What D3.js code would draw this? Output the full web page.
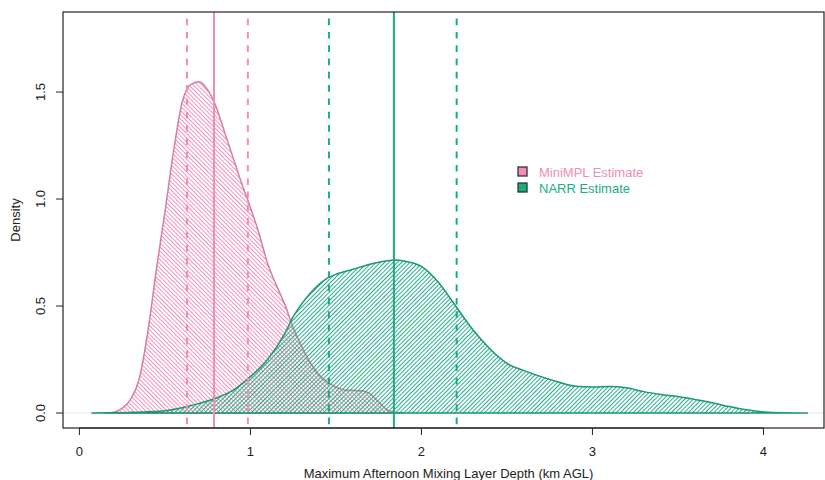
<!DOCTYPE html>
<html>
<head>
<meta charset="utf-8">
<script src="https://cdn.jsdelivr.net/npm/d3@7"></script>
<style>
  body { margin: 0; background: #fff; }
  text { font-family: "Liberation Sans", Arial, sans-serif; }
</style>
</head>
<body>
<div id="chart"></div>
<script>
"use strict";

// density estimates
const miniX = [0.15, 0.20, 0.25, 0.30, 0.35, 0.40, 0.45, 0.50, 0.55, 0.60, 0.65, 0.70, 0.75,
               0.80, 0.85, 0.90, 0.95, 1.00, 1.05, 1.10, 1.15, 1.20, 1.25, 1.30, 1.35, 1.40,
               1.45, 1.50, 1.55, 1.60, 1.65, 1.70, 1.75, 1.80, 1.85, 1.90];
const miniY = [0, 0.004, 0.022, 0.065, 0.16, 0.38, 0.67, 0.94, 1.22, 1.45, 1.535, 1.548, 1.51,
               1.43, 1.31, 1.19, 1.07, 0.96, 0.84, 0.70, 0.60, 0.51, 0.40, 0.31, 0.235, 0.18,
               0.145, 0.122, 0.108, 0.106, 0.104, 0.09, 0.05, 0.015, 0.003, 0];

const narrX = [0.07, 0.20, 0.30, 0.40, 0.50, 0.60, 0.70, 0.80, 0.90, 1.00, 1.10, 1.20, 1.25,
               1.30, 1.35, 1.40, 1.45, 1.50, 1.60, 1.70, 1.80, 1.85, 1.90, 2.00, 2.10, 2.20,
               2.30, 2.40, 2.50, 2.60, 2.70, 2.80, 2.90, 3.00, 3.10, 3.20, 3.30, 3.40, 3.50,
               3.60, 3.70, 3.80, 3.90, 4.00, 4.10, 4.26];
const narrY = [0, 0.001, 0.003, 0.006, 0.011, 0.025, 0.045, 0.07, 0.107, 0.17, 0.25, 0.37, 0.45,
               0.51, 0.56, 0.60, 0.63, 0.648, 0.672, 0.695, 0.712, 0.715, 0.71, 0.685, 0.61, 0.50,
               0.39, 0.30, 0.232, 0.198, 0.17, 0.145, 0.125, 0.122, 0.124, 0.118, 0.10, 0.087, 0.077,
               0.063, 0.048, 0.03, 0.015, 0.005, 0.001, 0];

// mean and interval lines
const miniLines = [0.629, 0.787, 0.985];
const narrLines = [1.459, 1.839, 2.206];

const xTicks = [0, 1, 2, 3, 4];
const yTicks = [0, 0.5, 1, 1.5];
const yTickLabels = ["0.0", "0.5", "1.0", "1.5"];
const legendLabels = ["MiniMPL Estimate", "NARR Estimate"];

const W = 825, H = 480;
const box = { left: 63, right: 824, top: 12, bottom: 428 };
const fs = 13;

const pink = "#f28cb9", pinkDark = "#d27fa4";
const green = "#19ad82", greenDark = "#1b9676";

const x = d3.scaleLinear().domain([-0.096, 4.354]).range([box.left, box.right]);
const y = d3.scaleLinear().domain([-0.07, 1.874]).range([box.bottom, box.top]);

const svg = d3.select("#chart").append("svg")
    .attr("width", W)
    .attr("height", H);

const defs = svg.append("defs");

function hatch(id, color, angle) {
    const p = defs.append("pattern")
        .attr("id", id)
        .attr("patternUnits", "userSpaceOnUse")
        .attr("width", 3)
        .attr("height", 3)
        .attr("patternTransform", `rotate(${angle})`);
    p.append("line")
        .attr("x1", 1.5).attr("x2", 1.5)
        .attr("y1", 0).attr("y2", 3)
        .attr("stroke", color)
        .attr("stroke-width", 0.95);
}
hatch("hatchPink", pink, -45);
hatch("hatchGreen", green, 45);

defs.append("clipPath").attr("id", "plotClip")
    .append("rect")
    .attr("x", box.left).attr("y", box.top)
    .attr("width", box.right - box.left)
    .attr("height", box.bottom - box.top);

const plot = svg.append("g").attr("clip-path", "url(#plotClip)");

// zero line
plot.append("line")
    .attr("x1", box.left).attr("x2", box.right)
    .attr("y1", y(0)).attr("y2", y(0))
    .attr("stroke", "#e4e4e4")
    .attr("stroke-width", 1);

const area = d3.area()
    .x(d => x(d[0]))
    .y0(y(0))
    .y1(d => y(d[1]))
    .curve(d3.curveMonotoneX);

const miniData = d3.zip(miniX, miniY);
const narrData = d3.zip(narrX, narrY);

plot.append("path")
    .datum(miniData)
    .attr("d", area)
    .attr("fill", "url(#hatchPink)")
    .attr("stroke", pinkDark)
    .attr("stroke-width", 1.5);

plot.append("path")
    .datum(narrData)
    .attr("d", area)
    .attr("fill", "url(#hatchGreen)")
    .attr("stroke", greenDark)
    .attr("stroke-width", 1.5);

function vlines(vals, color) {
    plot.selectAll(null).data(vals).enter().append("line")
        .attr("x1", d => x(d)).attr("x2", d => x(d))
        .attr("y1", box.top).attr("y2", box.bottom)
        .attr("stroke", color)
        .attr("stroke-width", 2)
        .attr("stroke-dasharray", (d, i) => i === 1 ? null : "6.7,6.6")
        .attr("stroke-dashoffset", 6.7);
}
vlines(miniLines, pink);
vlines(narrLines, green);

// box
svg.append("rect")
    .attr("x", box.left).attr("y", box.top)
    .attr("width", box.right - box.left)
    .attr("height", box.bottom - box.top)
    .attr("fill", "none")
    .attr("stroke", "#222")
    .attr("stroke-width", 1.2);

// x axis
const xAxis = svg.append("g");
xAxis.append("line")
    .attr("x1", x(xTicks[0])).attr("x2", x(xTicks[xTicks.length - 1]))
    .attr("y1", box.bottom).attr("y2", box.bottom)
    .attr("stroke", "#222");
xAxis.selectAll(".tick").data(xTicks).enter().append("line")
    .attr("x1", d => x(d)).attr("x2", d => x(d))
    .attr("y1", box.bottom).attr("y2", box.bottom + 7)
    .attr("stroke", "#222");
xAxis.selectAll(".lab").data(xTicks).enter().append("text")
    .attr("x", d => x(d))
    .attr("y", box.bottom + 28)
    .attr("text-anchor", "middle")
    .attr("font-size", fs)
    .attr("fill", "#222")
    .text(d => d);

svg.append("text")
    .attr("x", (box.left + box.right) / 2 + 5)
    .attr("y", 478)
    .attr("text-anchor", "middle")
    .attr("font-size", fs)
    .attr("fill", "#222")
    .text("Maximum Afternoon Mixing Layer Depth (km AGL)");

// y axis
const yAxis = svg.append("g");
yAxis.selectAll(".tick").data(yTicks).enter().append("line")
    .attr("x1", box.left - 7).attr("x2", box.left)
    .attr("y1", d => y(d)).attr("y2", d => y(d))
    .attr("stroke", "#222");
yAxis.selectAll(".lab").data(yTicks).enter().append("text")
    .attr("transform", d => `translate(${box.left - 18},${y(d)}) rotate(-90)`)
    .attr("text-anchor", "middle")
    .attr("font-size", fs)
    .attr("fill", "#222")
    .text((d, i) => yTickLabels[i]);

svg.append("text")
    .attr("transform", `translate(20,${(box.top + box.bottom) / 2}) rotate(-90)`)
    .attr("text-anchor", "middle")
    .attr("font-size", fs)
    .attr("fill", "#222")
    .text("Density");

// legend
const legend = svg.append("g").attr("transform", "translate(518,167)");
const legendColors = [pink, green];
legendLabels.forEach((lab, i) => {
    legend.append("rect")
        .attr("x", 0).attr("y", i * 16)
        .attr("width", 9).attr("height", 9)
        .attr("fill", legendColors[i])
        .attr("stroke", "#333")
        .attr("stroke-width", 1.3);
    legend.append("text")
        .attr("x", 21).attr("y", i * 16 + 9.5)
        .attr("font-size", fs)
        .attr("fill", legendColors[i])
        .text(lab);
});
</script>
</body>
</html>
